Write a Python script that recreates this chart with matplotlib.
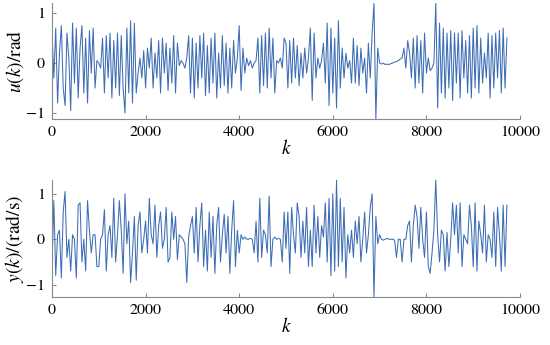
import matplotlib
matplotlib.use('Agg')
import matplotlib.pyplot as plt
import numpy as np

plt.rcParams['font.family'] = 'STIXGeneral'
plt.rcParams['mathtext.fontset'] = 'stix'

# sample step used when reading the curves off the picture
k_step = 40

u_vals = [
    0.6, -0.3, 0.7, -0.8, 0.2, 0.75, -0.5, -0.85, 0.6, 0.1, -0.95, 0.8, -0.4, 0.7, -0.7, 0.3, 0.75, -0.6, 0.5, -0.8, 0.65, -0.2, 0.7, -0.5, 0.05,
    0.0, -0.1, 0.5, -0.6, 0.55, -0.3, 0.6, -0.7, 0.45, -0.5, 0.6, -0.65, 0.55, -0.5, -1.0, 0.7, -0.6, 0.85, -0.8, 0.8, -0.6, -0.2, 0.1, -0.3, 0.25,
    -0.5, 0.3, -0.1, 0.5, -0.5, 0.2, -0.3, 0.45, -0.6, 0.5, -0.2, 0.4, -0.55, 0.3, -0.4, 0.55, -0.6, 0.4, -0.05, 0.05, 0.0, -0.1, 0.1, 0.55, -0.6,
    0.5, -0.7, 0.4, -0.5, 0.55, -0.3, 0.6, -0.65, 0.35, -0.6, 0.5, -0.4, 0.6, -0.7, 0.2, -0.5, 0.55, -0.45, 0.4, -0.6, 0.3, -0.5, 0.45, -0.2, 0.1,
    0.75, -0.55, 0.3, -0.2, 0.1, -0.05, 0.05, -0.1, 0.0, 0.05, 0.5, -0.6, 0.55, -0.45, 0.6, -0.5, 0.7, -0.3, 0.5, -0.6, 0.05, 0.0, 0.1, -0.1, 0.5,
    0.4, -0.5, 0.45, -0.4, 0.5, -0.3, 0.35, -0.45, 0.2, -0.3, 0.3, -0.2, 0.1, 0.7, -0.75, 0.6, -0.3, 0.1, -0.1, 0.05, 0.4, -0.4, 0.8, -0.85, 0.7,
    -0.6, 0.5, -0.9, 0.85, -0.5, 0.3, -0.3, 0.2, -0.1, 0.05, -0.4, 0.5, -0.4, 0.35, -0.45, 0.3, -0.2, 0.1, -0.6, 0.4, -0.3, 0.6, 1.2, -1.12, 0.3,
    0.0, -0.02, 0.0, -0.03, -0.02, -0.03, -0.01, 0.0, 0.02, 0.03, 0.05, 0.08, 0.1, 0.3, -0.1, 0.45, 0.2, -0.3, 0.5, -0.5, 0.55, -0.4, 0.45, -0.6, 0.6,
    -0.2, 0.1, -0.15, -0.1, 0.0, 1.2, -0.9, 0.8, -0.6, 0.7, -0.7, 0.6, -0.5, 0.65, -0.75, 0.6, -0.4, 0.6, -0.7, 0.65, -0.3, 0.45, -0.6, 0.55, -0.7,
    0.7, -0.5, 0.75, -0.6, 0.5, -0.4, 0.2, -0.3, 0.6, -0.7, 0.55, -0.5, 0.6, -0.3, 0.65, -0.6, 0.7, -0.5, 0.5,
]

y_vals = [
    -0.6, 0.85, -0.8, 0.1, 0.2, -0.85, 0.6, 1.05, -0.4, 0.0, -0.7, 0.1, 0.0, -0.85, 0.75, 0.8, -0.5, 0.0, -0.7, 0.85, 0.2, -0.3, 0.1, 0.1, -0.6,
    -0.6, 0.0, 0.1, 0.65, -0.7, 0.1, 0.3, -0.4, 0.9, -0.5, 0.1, 0.85, 0.2, -0.75, 1.0, -0.1, 0.4, -0.95, -0.3, 0.5, -0.9, 0.3, 0.6, -0.3, 0.0,
    0.4, -0.3, 0.9, 0.1, -0.1, 0.75, -0.4, 0.3, 0.6, -0.2, 0.0, 0.7, -0.5, -0.4, 0.6, 0.0, 0.5, -0.45, 0.1, 0.05, 0.0, -0.1, -0.95, 0.05, 0.3,
    0.5, -0.3, 0.7, -0.5, 0.3, 0.8, -0.6, 0.2, -0.7, 0.6, -0.4, 0.5, -0.75, 0.3, 0.7, -0.5, 0.1, 0.55, -0.3, 0.5, -0.75, 0.2, 0.85, -0.6, 0.2,
    -0.3, 0.1, 0.0, 0.05, 0.0, 0.0, 0.02, 0.0, -0.3, 0.4, -0.5, 0.9, -0.4, 0.2, 0.1, -0.3, 0.95, -0.6, 0.0, 0.05, 0.0, 0.02, 0.0, -0.5, 0.6,
    -0.2, 0.6, -0.75, 0.7, 0.1, -0.3, 0.8, 0.5, -0.4, 0.4, -0.3, 0.7, -0.6, 0.2, -0.6, 0.75, -0.3, 0.5, -0.4, 0.3, 0.05, 0.8, -0.5, 0.9, -0.8,
    1.0, -0.7, 1.3, -0.6, 0.9, -0.5, 0.7, -0.85, 0.1, -0.3, 0.2, -0.4, 0.4, -0.1, 0.5, -0.5, 0.0, 0.6, -0.3, 0.1, 0.7, 1.0, -1.27, 0.5, -0.1,
    0.1, 0.0, -0.02, 0.0, 0.02, 0.0, 0.0, 0.0, -0.02, -0.4, 0.0, 0.0, -0.5, 0.0, 0.0, 0.3, 0.4, -0.5, 0.3, 0.75, 0.5, -0.2, 0.7, 0.0, -0.4,
    0.6, -0.6, -0.75, -0.3, 0.2, 1.3, 0.1, -0.5, 0.2, 0.1, -0.7, 0.15, -0.6, 0.0, 0.8, 0.1, 0.75, -0.3, 0.8, -0.6, 0.1, 0.0, -0.1, 0.75, 0.3,
    -0.6, 0.8, -0.7, 0.4, 0.1, -0.3, 0.75, -0.5, 0.1, 0.0, -0.4, 0.6, -0.6, 0.7, 0.1, -0.7, 0.75, -0.6, 0.75,
]

k = np.arange(len(u_vals)) * k_step
line_col = '#3d6db5'
spine_col = '#8a8a8a'

fig = plt.figure(figsize=(5.5, 3.45), dpi=100)
ax1 = fig.add_axes([0.0945, 0.655, 0.851, 0.336])
ax2 = fig.add_axes([0.0945, 0.139, 0.851, 0.339])

def style(ax, ylim):
	ax.set_xlim(0, 10000)
	ax.set_ylim(*ylim)
	ax.set_xticks([0, 2000, 4000, 6000, 8000, 10000])
	ax.set_yticks([-1, 0, 1])
	for s in ['top', 'right']:
		ax.spines[s].set_visible(False)
	for s in ['left', 'bottom']:
		ax.spines[s].set_color(spine_col)
		ax.spines[s].set_linewidth(0.8)
	ax.tick_params(direction='in', length=3, color=spine_col, labelsize=11.5, pad=5)
	ax.set_xlabel(r'$k$', fontsize=14, labelpad=0)

ax1.plot(k, u_vals, color=line_col, lw=0.75)
style(ax1, (-1.12, 1.2))
ax1.set_ylabel(r'$u(k)/\mathrm{rad}$', fontsize=14, labelpad=0)

ax2.plot(k, y_vals, color=line_col, lw=0.75)
style(ax2, (-1.27, 1.3))
ax2.set_ylabel(r'$y(k)/(\mathrm{rad/s})$', fontsize=14, labelpad=0)

fig.savefig('out.png', dpi=100)
